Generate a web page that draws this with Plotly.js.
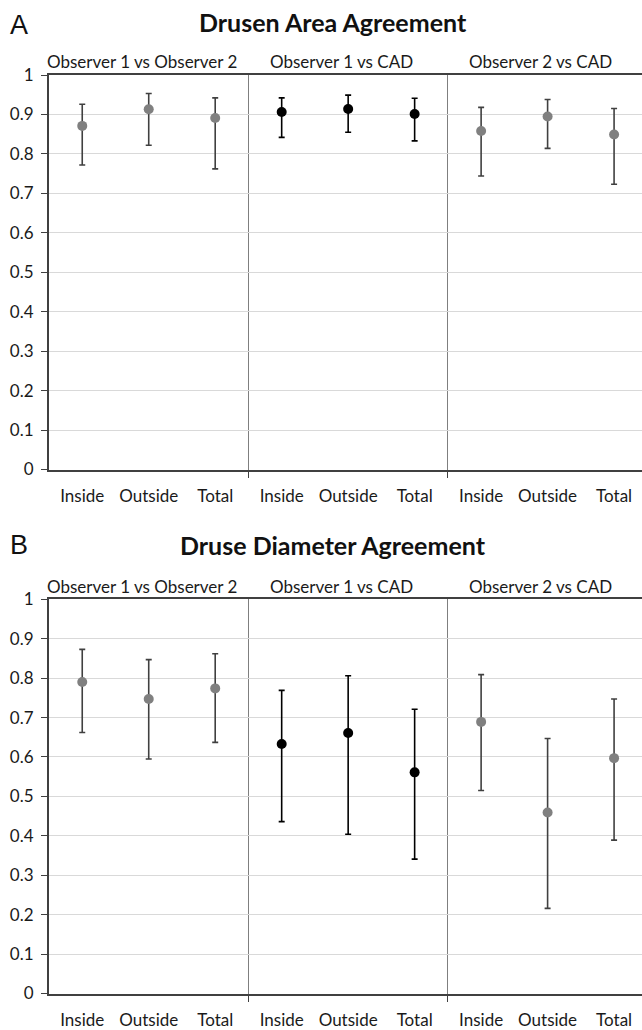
<!DOCTYPE html>
<html>
<head>
<meta charset="utf-8">
<script src="https://cdn.plot.ly/plotly-3.0.1.min.js"></script>
<style>html,body{margin:0;padding:0;background:#fff;}#chart{width:642px;height:1030px;}</style>
</head>
<body>
<div id="chart"></div>
<script>
// ---- data ----
const groups = ["Observer 1 vs Observer 2", "Observer 1 vs CAD", "Observer 2 vs CAD"];
const regions = ["Inside", "Outside", "Total"];

// Panel A: Drusen Area Agreement
const areaMean  = [[0.871, 0.913, 0.891], [0.906, 0.914, 0.901], [0.858, 0.895, 0.849]];
const areaUpper = [[0.926, 0.953, 0.942], [0.942, 0.949, 0.941], [0.918, 0.938, 0.915]];
const areaLower = [[0.772, 0.822, 0.762], [0.842, 0.855, 0.833], [0.744, 0.814, 0.723]];

// Panel B: Druse Diameter Agreement
const diamMean  = [[0.790, 0.747, 0.774], [0.633, 0.661, 0.561], [0.689, 0.459, 0.597]];
const diamUpper = [[0.873, 0.847, 0.862], [0.769, 0.806, 0.721], [0.809, 0.647, 0.747]];
const diamLower = [[0.662, 0.595, 0.637], [0.436, 0.404, 0.341], [0.515, 0.216, 0.389]];

const panelLetters = ["A", "B"];
const panelTitles = ["Drusen Area Agreement", "Druse Diameter Agreement"];
const yTicks = [0, 0.1, 0.2, 0.3, 0.4, 0.5, 0.6, 0.7, 0.8, 0.9, 1];

// ---- styles ----
const markerColors = ["#808080", "#000000", "#808080"];
const barColors = ["#404040", "#000000", "#404040"];
const FONT = "Lato, 'Open Sans', sans-serif";
const TXT = "#1a1a1a";

const xPos = [];
const xLabels = [];
groups.forEach((g, gi) => regions.forEach((r, ri) => { xPos.push(gi * regions.length + ri); xLabels.push(r); }));
const dividers = groups.slice(1).map((g, gi) => (gi + 1) * regions.length - 0.5);

const traces = [];
const panels = [[areaMean, areaUpper, areaLower], [diamMean, diamUpper, diamLower]];
panels.forEach((p, pi) => {
  const [mean, up, lo] = p;
  groups.forEach((g, gi) => {
    traces.push({
      type: "scatter", mode: "markers",
      x: regions.map((r, ri) => gi * regions.length + ri),
      y: mean[gi],
      xaxis: pi === 0 ? "x" : "x2",
      yaxis: pi === 0 ? "y" : "y2",
      marker: { color: markerColors[gi], size: 10 },
      error_y: {
        type: "data", symmetric: false,
        array: mean[gi].map((m, i) => up[gi][i] - m),
        arrayminus: mean[gi].map((m, i) => m - lo[gi][i]),
        color: barColors[gi], thickness: 1.6, width: 3
      },
      showlegend: false, hoverinfo: "skip", cliponaxis: false
    });
  });
});

function xAxis(anchor) {
  return {
    domain: [49 / 642, 1], range: [-0.5, 8.42], anchor: anchor,
    tickmode: "array", tickvals: xPos, ticktext: xLabels,
    ticks: "", showgrid: false, zeroline: false,
    showline: true, linecolor: "#404040", linewidth: 2, mirror: true,
    tickfont: { family: FONT, size: 17, color: TXT },
    ticklabelstandoff: 10,
    minor: { tickmode: "array", tickvals: dividers, ticks: "outside", ticklen: 6,
             tickcolor: "#404040", tickwidth: 1, showgrid: true, gridcolor: "#7f7f7f", gridwidth: 1 },
    fixedrange: true
  };
}
function yAxis(anchor, dom) {
  return {
    domain: dom, range: [0, 1], anchor: anchor,
    tickmode: "array", tickvals: yTicks,
    ticks: "outside", ticklen: 6, tickcolor: "#404040", tickwidth: 1,
    showgrid: true, gridcolor: "#d9d9d9", gridwidth: 1, zeroline: false,
    showline: true, linecolor: "#404040", linewidth: 2,
    tickfont: { family: FONT, size: 17, color: TXT },
    ticklabelstandoff: 4,
    fixedrange: true
  };
}

const topDom = [1 - 469.5 / 1030, 1 - 75 / 1030];
const botDom = [1 - 993.5 / 1030, 1 - 599.3 / 1030];

const annotations = [];
const letterY = [1 - 25 / 1030, 1 - 545 / 1030];
const titleY = [1 - 22 / 1030, 1 - 545 / 1030];
const subY = [1 - 62 / 1030, 1 - 586 / 1030];
panelTitles.forEach((t, pi) => {
  annotations.push({ text: panelLetters[pi], xref: "paper", yref: "paper", x: 19 / 642, y: letterY[pi],
    xanchor: "center", yanchor: "middle", showarrow: false,
    font: { family: "'Liberation Sans', Arial, sans-serif", size: 27, color: "#111" } });
  annotations.push({ text: "<b>" + t + "</b>", xref: "paper", yref: "paper", x: 333 / 642, y: titleY[pi],
    xanchor: "center", yanchor: "middle", showarrow: false,
    font: { family: FONT, size: 25, color: "#111" } });
  groups.forEach((g, gi) => {
    annotations.push({ text: g, xref: pi === 0 ? "x" : "x2", yref: "paper",
      x: gi * regions.length + 1, y: subY[pi], xshift: -7,
      xanchor: "center", yanchor: "middle", showarrow: false,
      font: { family: FONT, size: 17, color: TXT } });
  });
});

const layout = {
  width: 642, height: 1030,
  margin: { l: 0, r: 0, t: 0, b: 0 },
  paper_bgcolor: "#ffffff", plot_bgcolor: "#ffffff",
  xaxis: xAxis("y"), yaxis: yAxis("x", topDom),
  xaxis2: xAxis("y2"), yaxis2: yAxis("x2", botDom),
  annotations: annotations,
  showlegend: false
};

Plotly.newPlot("chart", traces, layout, { displayModeBar: false, staticPlot: true });
</script>
</body>
</html>
